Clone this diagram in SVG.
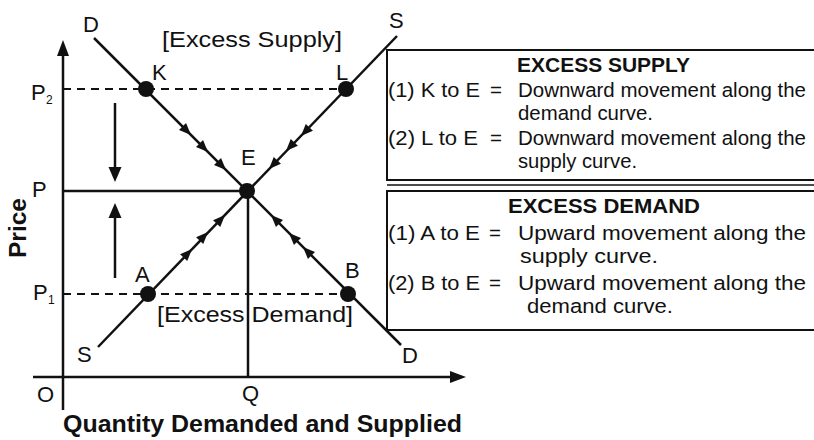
<svg xmlns="http://www.w3.org/2000/svg" xmlns:xlink="http://www.w3.org/1999/xlink" width="814" height="440" viewBox="0 0 814 440">
<style>
.ln{stroke:#111;stroke-width:2.5;fill:none}
.dash{stroke:#111;stroke-width:2.2;fill:none;stroke-dasharray:8 6}
.box{stroke:#111;stroke-width:2;fill:none}
.lab{font-family:"Liberation Sans",Arial,sans-serif;font-size:22px;fill:#111}
.sub{font-family:"Liberation Sans",Arial,sans-serif;font-size:12px;fill:#111}
.ttl{font-family:"Liberation Sans",Arial,sans-serif;font-size:20px;font-weight:bold;fill:#111}
.txt{font-family:"Liberation Sans",Arial,sans-serif;font-size:20.5px;fill:#111}
.ax{font-family:"Liberation Sans",Arial,sans-serif;font-size:23px;font-weight:bold;fill:#111}
.dot{fill:#111}
</style>
<defs>
<path id="chev" d="M0,0 L-12,-5 L-12,5 Z" fill="#111"/>
</defs>
<rect width="814" height="440" fill="#fff"/>

<g id="axes">
<line class="ln" x1="63" y1="410" x2="63" y2="54"/>
<polygon points="63,40 57,56 69,56" fill="#111"/>
<line class="ln" x1="33" y1="377" x2="452" y2="377"/>
<polygon points="466,377 450,371 450,383" fill="#111"/>
<text class="lab" x="37" y="402">O</text>
<text class="lab" x="242" y="401">Q</text>
<text class="ax" x="63" y="432" textLength="399" lengthAdjust="spacingAndGlyphs">Quantity Demanded and Supplied</text>
<text class="ax" transform="translate(26,258) rotate(-90)" textLength="60" lengthAdjust="spacingAndGlyphs">Price</text>
</g>

<g id="price-lines">
<line class="dash" x1="63" y1="89" x2="346" y2="89"/>
<line class="ln" x1="63" y1="191" x2="247" y2="191"/>
<line class="dash" x1="63" y1="294" x2="348" y2="294"/>
<line class="ln" x1="248" y1="191" x2="248" y2="377"/>
<text class="lab" x="31" y="100">P</text><text class="sub" x="46" y="104">2</text>
<text class="lab" x="32" y="197">P</text>
<text class="lab" x="33" y="300">P</text><text class="sub" x="48" y="304">1</text>
</g>

<g id="connectors">
<line class="ln" x1="94" y1="38" x2="401" y2="345"/>
<line class="ln" x1="98" y1="347" x2="397" y2="36"/>
<use xlink:href="#chev" transform="translate(191,135) rotate(45)"/>
<use xlink:href="#chev" transform="translate(208,152) rotate(45)"/>
<use xlink:href="#chev" transform="translate(226,170) rotate(45)"/>
<use xlink:href="#chev" transform="translate(301,136) rotate(134)"/>
<use xlink:href="#chev" transform="translate(286,151) rotate(134)"/>
<use xlink:href="#chev" transform="translate(269,169) rotate(134)"/>
<use xlink:href="#chev" transform="translate(192,249) rotate(-46)"/>
<use xlink:href="#chev" transform="translate(208,232) rotate(-46)"/>
<use xlink:href="#chev" transform="translate(225,215) rotate(-46)"/>
<use xlink:href="#chev" transform="translate(303,247) rotate(-135)"/>
<use xlink:href="#chev" transform="translate(289,233) rotate(-135)"/>
<use xlink:href="#chev" transform="translate(271,215) rotate(-135)"/>
<line class="ln" x1="115" y1="103" x2="115" y2="170"/>
<polygon points="115,182 108.5,167 121.5,167" fill="#111"/>
<line class="ln" x1="115" y1="278" x2="115" y2="215"/>
<polygon points="115,203 108.5,218 121.5,218" fill="#111"/>
</g>

<g id="curve-labels">
<text class="lab" x="83" y="32">D</text>
<text class="lab" x="389" y="28">S</text>
<text class="lab" x="77" y="362">S</text>
<text class="lab" x="402" y="363">D</text>
<text class="lab" x="162" y="47" textLength="180" lengthAdjust="spacingAndGlyphs">[Excess Supply]</text>
<text class="lab" x="157" y="322" textLength="196" lengthAdjust="spacingAndGlyphs">[Excess Demand]</text>
</g>

<g id="point-K"><circle class="dot" cx="146" cy="89" r="8"/><text class="lab" x="152" y="80">K</text></g>
<g id="point-L"><circle class="dot" cx="346" cy="89" r="8"/><text class="lab" x="336" y="80">L</text></g>
<g id="point-E"><circle class="dot" cx="247" cy="191" r="8"/><text class="lab" x="241" y="165">E</text></g>
<g id="point-A"><circle class="dot" cx="148" cy="294" r="8"/><text class="lab" x="135" y="282">A</text></g>
<g id="point-B"><circle class="dot" cx="348" cy="294" r="8"/><text class="lab" x="345" y="278">B</text></g>

<g id="box-excess-supply">
<path class="box" d="M815,50 H387 V180 H815"/>
<text class="ttl" x="517" y="72" textLength="173" lengthAdjust="spacingAndGlyphs">EXCESS SUPPLY</text>
<text class="txt" x="388" y="97" textLength="92" lengthAdjust="spacingAndGlyphs">(1) K to E</text>
<text class="txt" x="490" y="97">=</text>
<text class="txt" x="518" y="97" textLength="288" lengthAdjust="spacingAndGlyphs">Downward movement along the</text>
<text class="txt" x="518" y="120" textLength="135" lengthAdjust="spacingAndGlyphs">demand curve.</text>
<text class="txt" x="388" y="145" textLength="90" lengthAdjust="spacingAndGlyphs">(2) L to E</text>
<text class="txt" x="490" y="145">=</text>
<text class="txt" x="518" y="145" textLength="288" lengthAdjust="spacingAndGlyphs">Downward movement along the</text>
<text class="txt" x="518" y="168" textLength="119" lengthAdjust="spacingAndGlyphs">supply curve.</text>
</g>

<line x1="387" y1="185" x2="814" y2="185" stroke="#111" stroke-width="1.5"/>

<g id="box-excess-demand">
<path class="box" d="M815,191 H387 V330 H815"/>
<text class="ttl" x="508" y="213" textLength="192" lengthAdjust="spacingAndGlyphs">EXCESS DEMAND</text>
<text class="txt" x="388" y="240" textLength="92" lengthAdjust="spacingAndGlyphs">(1) A to E</text>
<text class="txt" x="489" y="240">=</text>
<text class="txt" x="518" y="240" textLength="288" lengthAdjust="spacingAndGlyphs">Upward movement along  the</text>
<text class="txt" x="520" y="263" textLength="138" lengthAdjust="spacingAndGlyphs">supply curve.</text>
<text class="txt" x="388" y="290" textLength="92" lengthAdjust="spacingAndGlyphs">(2) B to E</text>
<text class="txt" x="489" y="290">=</text>
<text class="txt" x="518" y="290" textLength="288" lengthAdjust="spacingAndGlyphs">Upward movement along  the</text>
<text class="txt" x="527" y="313" textLength="146" lengthAdjust="spacingAndGlyphs">demand curve.</text>
</g>
</svg>
